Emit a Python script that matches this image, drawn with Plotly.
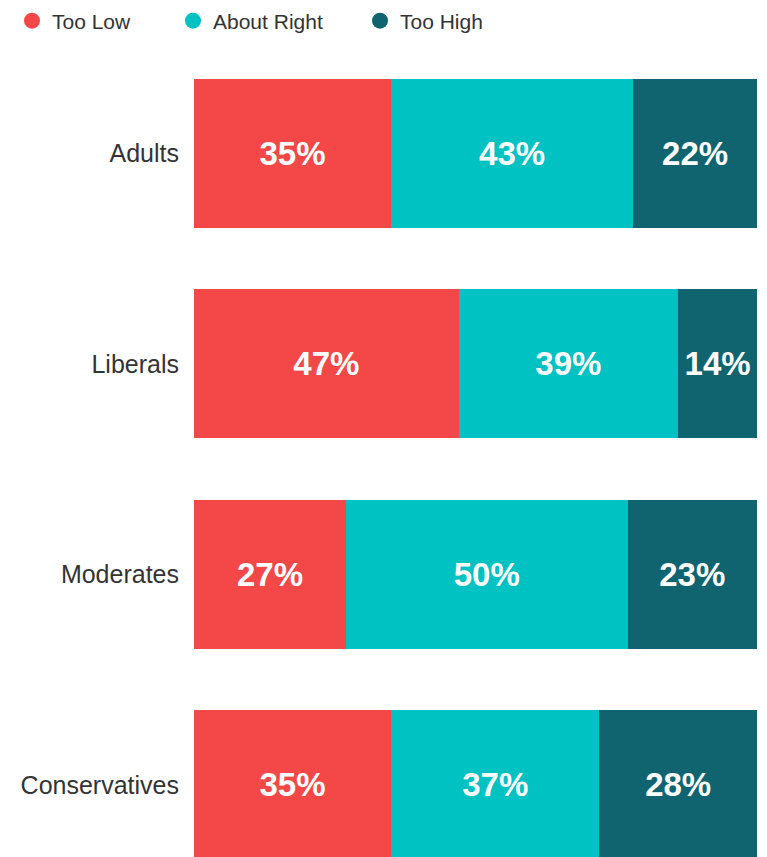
import plotly.graph_objects as go

categories = ["Adults", "Liberals", "Moderates", "Conservatives"]
too_low = [35, 47, 27, 35]
about_right = [43, 39, 50, 37]
too_high = [22, 14, 23, 28]
series_names = ["Too Low", "About Right", "Too High"]
colors = ["#F44848", "#00C2C2", "#106470"]

fig = go.Figure()
for name, vals, col in zip(series_names, [too_low, about_right, too_high], colors):
    fig.add_trace(go.Bar(
        y=categories, x=vals, orientation="h", name=name,
        marker=dict(color=col, line=dict(width=0)),
        text=[f"{v}%" for v in vals], textposition="inside",
        insidetextanchor="middle",
        textfont=dict(family="Liberation Sans, Arial", size=33, color="white", weight="bold"),
        showlegend=False, hoverinfo="skip",
    ))

legend_names = ["legend", "legend2", "legend3"]
for name, col, lg in zip(series_names, colors, legend_names):
    fig.add_trace(go.Scatter(
        x=[None], y=[None], mode="markers", name=name,
        marker=dict(color=col, size=18, symbol="circle"),
        showlegend=True, legend=lg,
    ))

leg_common = dict(orientation="h", xref="container", yref="container",
                  yanchor="middle", y=1 - 21 / 857, xanchor="left",
                  font=dict(family="Liberation Sans, Arial", size=21, color="#333333"),
                  bgcolor="rgba(0,0,0,0)", borderwidth=0)
legend_x = [12, 173, 360]
fig.update_layout(
    width=767, height=857,
    margin=dict(l=194, r=10, t=48, b=0),
    paper_bgcolor="white", plot_bgcolor="white",
    barmode="stack", bargap=0.292,
    legend=dict(x=legend_x[0] / 767, **leg_common),
    legend2=dict(x=legend_x[1] / 767, **leg_common),
    legend3=dict(x=legend_x[2] / 767, **leg_common),
    xaxis=dict(range=[0, 100], visible=False, fixedrange=True),
    yaxis=dict(type="category", categoryorder="array", categoryarray=categories,
               range=[3.343, -0.5], showgrid=False, zeroline=False, showline=False,
               ticks="", ticklabelstandoff=14, automargin=False,
               tickfont=dict(family="Liberation Sans, Arial", size=25, color="#333333")),
)
fig.write_html("out.html", config={"displayModeBar": False},
               post_script="document.body.style.margin='0';document.body.style.overflow='hidden';")
